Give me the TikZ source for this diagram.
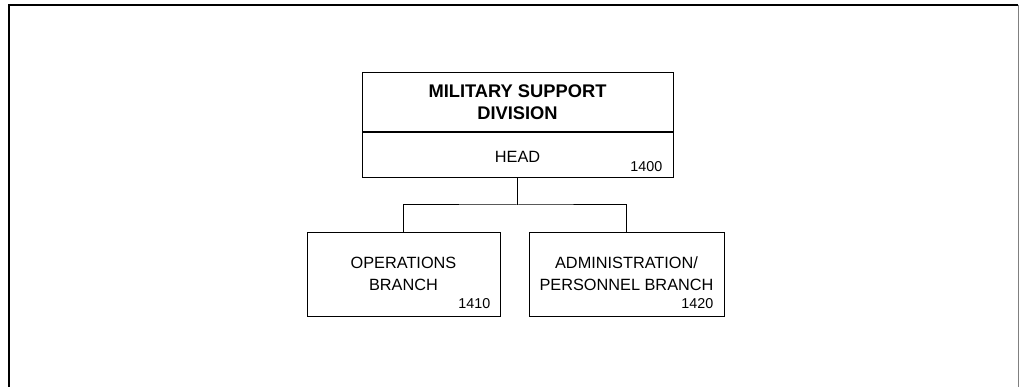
\documentclass[tikz,border=0pt]{standalone}
\usepackage{fontspec}
\setmainfont{Liberation Sans}
\usetikzlibrary{positioning}

\tikzset{
  unitbox/.style={draw,line width=1pt,align=center,inner sep=0pt,
    font=\fontsize{16.3}{22}\selectfont},
  unitno/.style={anchor=base east,inner sep=0pt,font=\fontsize{14.3}{17}\selectfont}
}

\begin{document}
\begin{tikzpicture}[x=1pt,y=-1pt]
   \useasboundingbox (0,0) rectangle (1019,387);
   \draw[line width=2pt] (9,390) -- (9,5) -- (1018,5);
   \draw[line width=1pt,gray] (1018,5) -- (1018,390);

   \node[unitbox,minimum width=311pt,minimum height=59pt,
     font=\bfseries\fontsize{18.3}{22}\selectfont] (div) at (517.5,102.5)
     {MILITARY SUPPORT\\DIVISION};
   \node[unitbox,minimum width=311pt,minimum height=45pt,below=0pt of div,
     text height=15pt] (head) {HEAD};
   \node[unitno] (n1400) at ([shift={(-11,-7)}]head.south east) {1400};

   \node[unitbox,minimum width=193pt,minimum height=83pt,text depth=2pt] (ops)
     at (403.5,274.5) {OPERATIONS\\BRANCH};
   \node[unitno] (n1410) at ([shift={(-10,-8)}]ops.south east) {1410};
   \node[unitbox,minimum width=195pt,minimum height=83pt,text depth=2pt] (adm)
     at (626.5,274.5) {ADMINISTRATION/\\PERSONNEL BRANCH};
   \node[unitno] (n1420) at ([shift={(-11,-8)}]adm.south east) {1420};

   \coordinate (bus) at (head.south |- 0,205);
   \draw[line width=1pt] (head.south) -- (bus);
   \draw[line width=1pt] (ops.north) |- (bus) -| (adm.north);
\end{tikzpicture}
\end{document}
